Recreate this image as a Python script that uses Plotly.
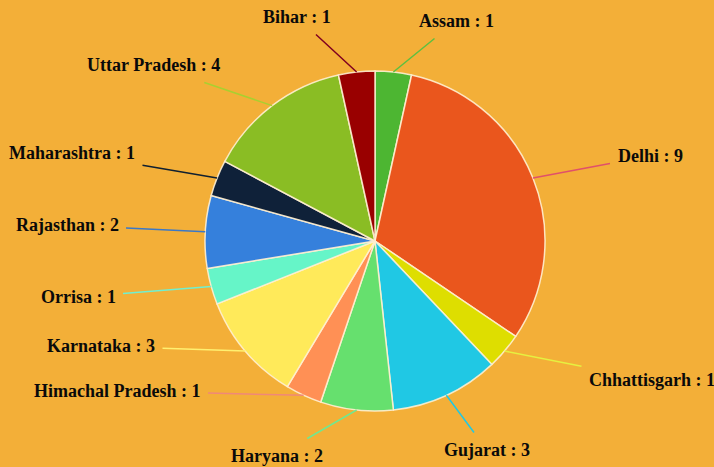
import math
import plotly.graph_objects as go

# ---- data ----
states = ["Assam", "Delhi", "Chhattisgarh", "Gujarat", "Haryana", "Himachal Pradesh",
          "Karnataka", "Orrisa", "Rajasthan", "Maharashtra", "Uttar Pradesh", "Bihar"]
counts = [1, 9, 1, 3, 2, 1, 3, 1, 2, 1, 4, 1]
slice_colors = ["#4DB632", "#EA561D", "#DEDE00", "#20C8E4", "#66E06E", "#FF9055",
                "#FFEA5A", "#66F5C8", "#3580DC", "#0F2139", "#8ABD24", "#990000"]
leader_colors = ["#5DC040", "#E0506A", "#E6F040", "#20C8E4", "#70E890", "#F08878",
                 "#FFF070", "#70F0D0", "#3A78C8", "#102030", "#A8D030", "#800020"]

# ---- layout (pixels) ----
W, H = 714, 467
CX, CY, R = 375, 241, 170
# label text centres (pixels from top-left)
label_pos = {
    "Assam": (456, 21), "Delhi": (650, 156), "Chhattisgarh": (652, 380),
    "Gujarat": (487, 450), "Haryana": (277, 456), "Himachal Pradesh": (117, 391),
    "Karnataka": (101, 346), "Orrisa": (78, 297), "Rajasthan": (67, 225),
    "Maharashtra": (72, 153), "Uttar Pradesh": (153, 65), "Bihar": (297, 17),
}

fig = go.Figure(go.Pie(
    labels=states, values=counts, sort=False, direction="clockwise", rotation=0,
    marker=dict(colors=slice_colors, line=dict(color="rgba(255,240,210,0.9)", width=1.5)),
    textinfo="none", hoverinfo="label+value", showlegend=False,
    domain=dict(x=[(CX - R) / W, (CX + R) / W], y=[(H - CY - R) / H, (H - CY + R) / H]),
))

total = sum(counts)
cum = 0
annotations = []
for s, v, lc in zip(states, counts, leader_colors):
    mid = (cum + v / 2) / total * 2 * math.pi
    cum += v
    px = CX + R * math.sin(mid)
    py = CY - R * math.cos(mid)
    lx, ly = label_pos[s]
    annotations.append(dict(
        x=px / W, y=(H - py) / H, xref="paper", yref="paper",
        ax=lx - px, ay=ly - py, axref="pixel", ayref="pixel",
        text=f"<b>{s} : {v}</b>", showarrow=True, arrowhead=0, arrowwidth=1.5,
        arrowcolor=lc, standoff=0, borderpad=7,
        font=dict(family="Liberation Serif", size=18, color="#0A0A0A"),
    ))

fig.update_layout(
    width=W, height=H, margin=dict(l=0, r=0, t=0, b=0),
    paper_bgcolor="#F3AF38", plot_bgcolor="#F3AF38",
    annotations=annotations,
)
fig.write_html("out.html")
